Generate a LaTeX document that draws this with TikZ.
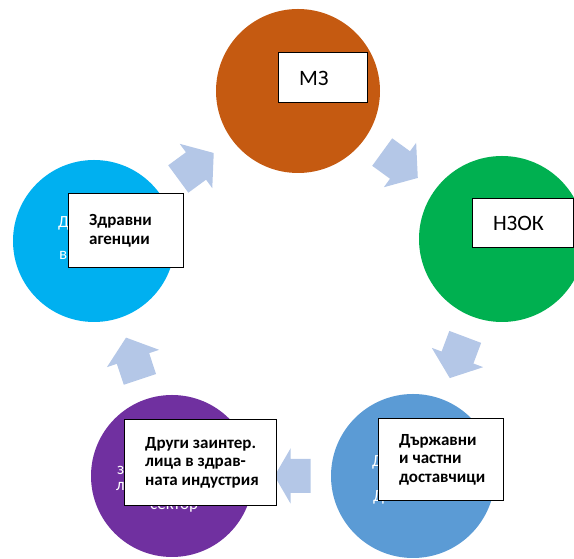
\documentclass[tikz,border=0pt]{standalone}
\usepackage{fontspec}
\setmainfont{Carlito}
\usetikzlibrary{calc}

\definecolor{mzcol}{HTML}{C55A11}
\definecolor{nzokcol}{HTML}{00B050}
\definecolor{dostcol}{HTML}{5B9BD5}
\definecolor{drugicol}{HTML}{7030A0}
\definecolor{agencol}{HTML}{00B0F0}
\definecolor{strelkacol}{HTML}{B4C7E7}

\begin{document}
\begin{tikzpicture}[x=1pt,y=1pt]
% stilove
\tikzset{krug/.style={circle,inner sep=0pt,minimum size=#1},
  kutiya/.style={draw=black,line width=1.4pt,fill=white,anchor=north west,inner sep=0pt},
  nadpis/.style={anchor=west,inner sep=0pt,align=left,
    font=\fontsize{17}{18.5}\selectfont\bfseries},
  golyam/.style={font=\fontsize{22}{24}\selectfont},
  skrit/.style={text=white,anchor=base west,inner sep=0pt,
    font=\fontsize{17}{18.5}\selectfont},
  strelka/.style={fill=strelkacol}}
\useasboundingbox (0,0) rectangle (574,559);
\clip (0,0) rectangle (574,559);
% krugovete
\node[krug=164, fill=mzcol]    (mz)    at (298,468) {};
\node[krug=166, fill=nzokcol]  (nzok)  at (502,320) {};
\node[krug=164, fill=dostcol]  (dost)  at (413,83)  {};
\node[krug=162, fill=drugicol] (drugi) at (172,83)  {};
\node[krug=162, fill=agencol]  (agen)  at (94,318)  {};
% strelkite mezhdu krugovete
\foreach \ot/\kym/\ugal/\dal/\glava in {agen/mz/36.3/44/22, mz/nzok/-36/44/22,
    nzok/dost/-110.6/44/22, dost/drugi/180/36/16, drugi/agen/108.4/44/22}
  \fill[strelka,shift={($(\ot)!0.5!(\kym)$)},rotate=\ugal]
    (-\dal/2,-17) -- (\dal/2-\glava,-17) -- (\dal/2-\glava,-27.5) -- (\dal/2,0)
    -- (\dal/2-\glava,27.5) -- (\dal/2-\glava,17) -- (-\dal/2,17) -- cycle;
% beliyat tekst pod kutiite
\node[skrit] (s1) at (58,331) {Д};
\node[skrit] (s2) at (59,299) {в};
\node[skrit] (s3) at (117,84) {з};
\node[skrit] (s4) at (116,68) {л};
\node[skrit] (s5) at (150,49) {сектор};
\node[skrit] (s6) at (372,92) {Д};
\node[skrit] (s7) at (373,57) {Д};
% kutiite
\node[kutiya,minimum width=89,minimum height=50]  (mzk)    at (278,507) {};
\node[kutiya,minimum width=101,minimum height=49] (nzokk)  at (472,361) {};
\node[kutiya,minimum width=115,minimum height=74] (agenk)  at (68,366)  {};
\node[kutiya,minimum width=152,minimum height=86] (drugik) at (124,140) {};
\node[kutiya,minimum width=125,minimum height=82] (dostk)  at (378,141) {};
% nadpisite
\node[nadpis,golyam] (mzt)   at ([xshift=21pt,yshift=-1pt]mzk.west)   {МЗ};
\node[nadpis,golyam] (nzokt) at ([xshift=21pt]nzokk.west) {НЗОК};
\node[nadpis] (agent)  at ([xshift=21pt]agenk.west)  {Здравни\\агенции};
\node[nadpis] (drugit) at ([xshift=21pt]drugik.west) {Други заинтер.\\лица в здрав-\\ната индустрия};
\node[nadpis] (dostt)  at ([xshift=21pt]dostk.west)  {Държавни\\и частни\\доставчици};
\end{tikzpicture}
\end{document}
